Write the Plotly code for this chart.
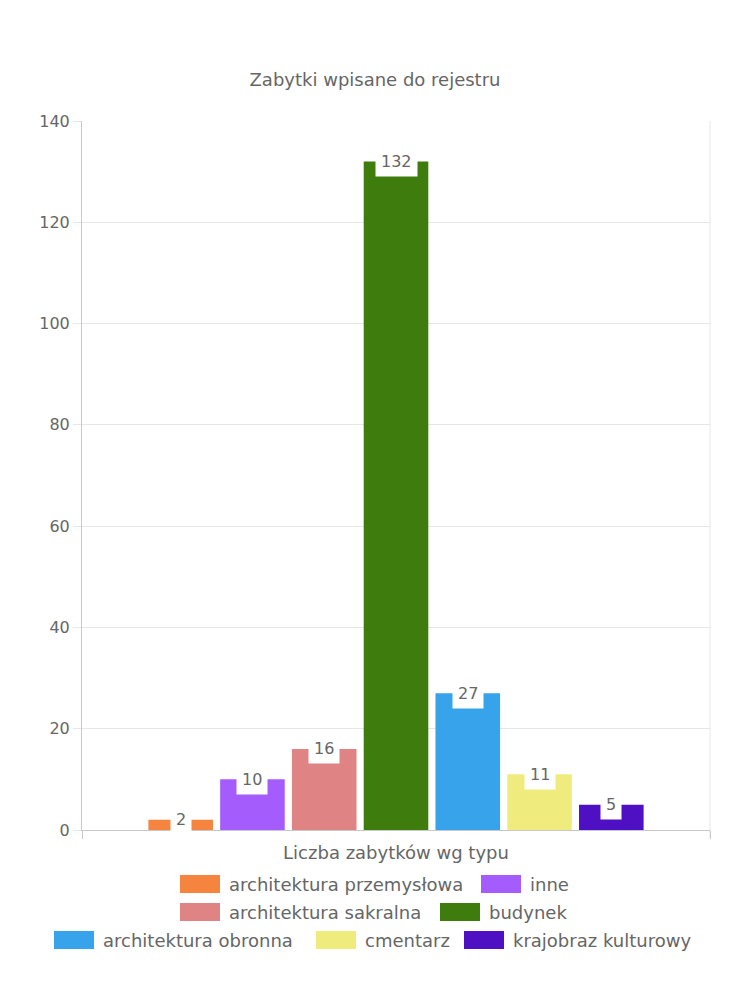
import plotly.graph_objects as go

# ---- data ----
category = ["Liczba zabytków wg typu"]
series_names = [
    "architektura przemysłowa",
    "inne",
    "architektura sakralna",
    "budynek",
    "architektura obronna",
    "cmentarz",
    "krajobraz kulturowy",
]
series_values = [2, 10, 16, 132, 27, 11, 5]
series_colors = ["#f5843f", "#a55cfc", "#e08384", "#3e7d0d", "#37a3ea", "#f0eb7d", "#4f0fc3"]
y_ticks = [0, 20, 40, 60, 80, 100, 120, 140]
title_text = "Zabytki wpisane do rejestru"

# ---- layout geometry (pixels, in page coordinates; page has 8px body margin) ----
OX, OY = 8, 8
W, H = 750 - OX, 1000 - OY
PX0, PX1, PY0, PY1 = 82, 710, 121, 830   # plot area in page px
ML, MT = PX0 - OX, PY0 - OY
PW, PH = PX1 - PX0, PY1 - PY0
MR, MB = W - ML - PW, H - MT - PH
FONT = "DejaVu Sans, Open Sans, sans-serif"
TXT = "#666666"
GRID = "#e6e6e6"
AXIS = "#c8c8c8"
BARGAP = 0.2
n = len(series_names)

fig = go.Figure()
for name, val, col in zip(series_names, series_values, series_colors):
    fig.add_trace(go.Bar(
        x=category, y=[val], name=name,
        marker=dict(color=col, line=dict(width=0)),
        showlegend=False, hoverinfo="skip",
    ))

# value labels in white boxes centred on bar tops
slot = PW * (1 - BARGAP) / n
annotations = []
for i, val in enumerate(series_values):
    annotations.append(dict(
        x=category[0], y=val, xref="x", yref="y",
        text=str(val), showarrow=False,
        xshift=(i - (n - 1) / 2) * slot,
        yanchor="middle", xanchor="center",
        bgcolor="white", borderpad=5,
        font=dict(family=FONT, size=16, color=TXT),
    ))

# custom legend (rows as in reference)
legend_rows = [[0, 1], [2, 3], [4, 5, 6]]
row_y = [884, 912, 940]
row_x0 = [[180, 481], [180, 440], [54, 316, 464]]
SW_W, SW_H = 40, 18


def px_x(p):
    return (p - PX0) / PW


def px_y(p):
    return (PY1 - p) / PH


shapes = [
    # right frame edge of the plot area (category boundary line)
    dict(type="line", xref="paper", yref="paper", x0=1, x1=1,
         y0=px_y(PY1 + 8), y1=1, line=dict(color=GRID, width=1), layer="below"),
]
for r, items in enumerate(legend_rows):
    for k, idx in enumerate(items):
        x0 = row_x0[r][k]
        yc = row_y[r]
        shapes.append(dict(
            type="rect", xref="paper", yref="paper",
            x0=px_x(x0), x1=px_x(x0 + SW_W),
            y0=px_y(yc + SW_H / 2), y1=px_y(yc - SW_H / 2),
            fillcolor=series_colors[idx], line=dict(width=0),
        ))
        annotations.append(dict(
            x=px_x(x0 + SW_W + 7), y=px_y(yc),
            xref="paper", yref="paper", xanchor="left", yanchor="middle",
            text=series_names[idx], showarrow=False,
            font=dict(family=FONT, size=18, color=TXT),
        ))

fig.update_layout(
    width=W, height=H,
    margin=dict(l=ML, r=MR, t=MT, b=MB),
    paper_bgcolor="white", plot_bgcolor="white",
    barmode="group", bargap=BARGAP, bargroupgap=0.1,
    title=dict(text=title_text, x=(375 - OX) / W, xanchor="center",
               y=1 - (80 - OY) / H, yanchor="middle",
               font=dict(family=FONT, size=18, color=TXT)),
    font=dict(family=FONT, size=16, color=TXT),
    annotations=annotations,
    shapes=shapes,
    showlegend=False,
)
fig.update_yaxes(
    range=[0, 140], tickvals=y_ticks, showgrid=True, gridcolor=GRID,
    ticks="outside", ticklen=8, tickcolor=GRID,
    showline=True, linecolor=AXIS, mirror=False, zeroline=False,
    tickfont=dict(family=FONT, size=16, color=TXT),
)
fig.update_xaxes(
    tickson="boundaries", ticks="outside", ticklen=8, tickcolor=AXIS,
    showline=True, linecolor=AXIS, showgrid=True, gridcolor=GRID,
    ticklabelstandoff=6,
    tickfont=dict(family=FONT, size=18, color=TXT),
)

fig.write_html("out.html")
